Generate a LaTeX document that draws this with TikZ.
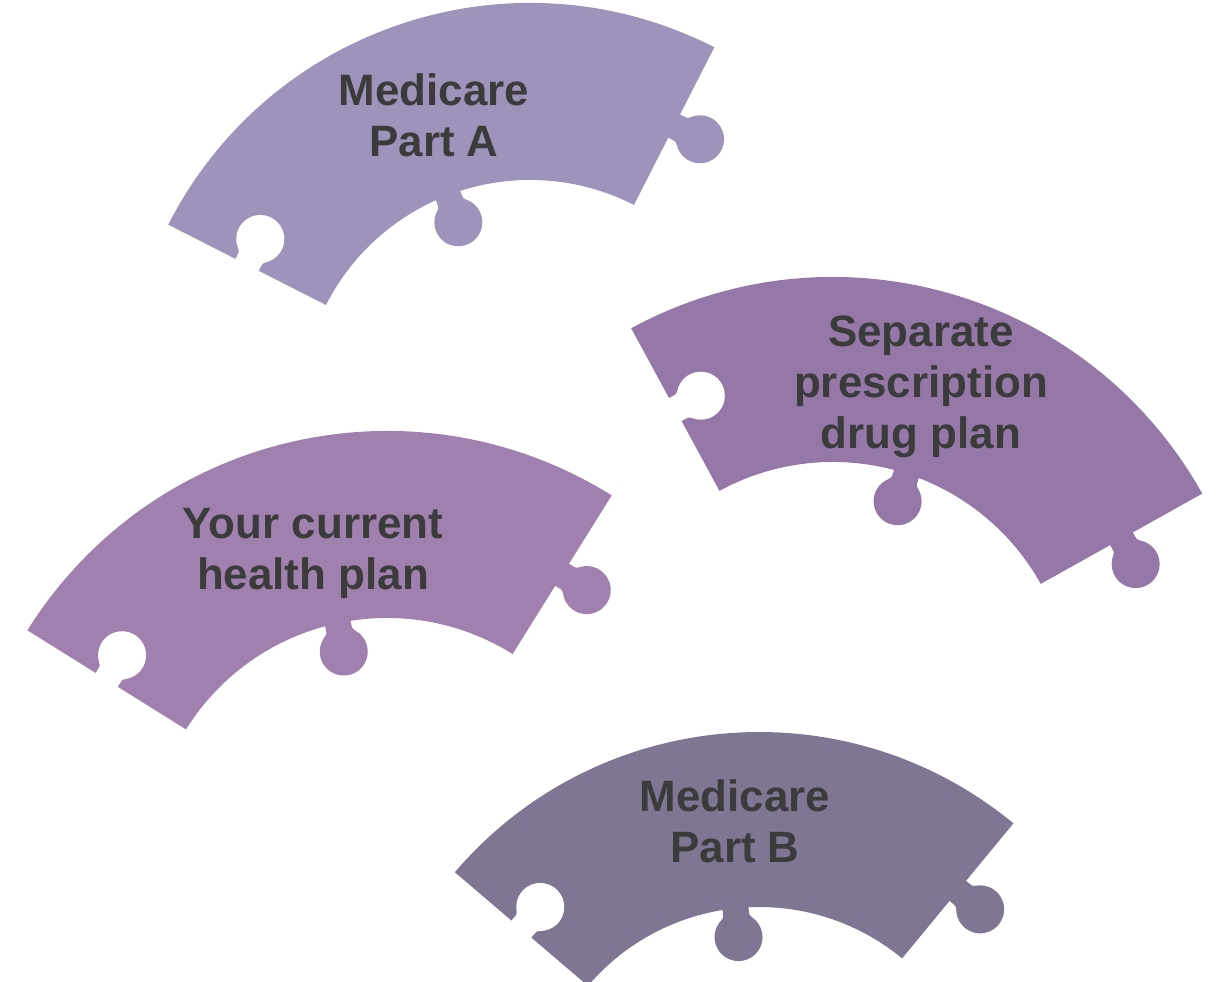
\documentclass[tikz,border=0pt]{standalone}
\usepackage{fontspec}
\setmainfont{Liberation Sans}
\usepackage{xcolor}
\usepackage{tikz}
\usetikzlibrary{positioning}

\definecolor{partAcol}{HTML}{9E93BB}
\definecolor{drugcol}{HTML}{9578A8}
\definecolor{healthcol}{HTML}{A080AF}
\definecolor{partBcol}{HTML}{7F7694}
\definecolor{labelgray}{HTML}{3B3B3B}

\begin{document}
\begin{tikzpicture}[x=0.02cm, y=0.02cm,
  every node/.style={font=\bfseries\fontsize{25}{29}\selectfont, text=labelgray, align=center},
  pics/knob/.style={code={
    \fill (-13,-6) -- (-13,3) .. controls (-13,6) and (-12.4,8.1) .. (-15.5,10.7)
      arc[start angle=229.8, end angle=-49.8, radius=24]
      .. controls (12.4,8.1) and (13,6) .. (13,3) -- (13,-6) -- cycle;
  }}]

\clip (0,0) rectangle (1220,982);
\useasboundingbox (0,0) rectangle (1220,982);

% Top piece: Medicare Part A
\begin{scope}[shift={(530,573)}]
    \fill[partAcol] (63:406) arc[start angle=63, end angle=153, radius=406]
        -- (153:229) arc[start angle=153, end angle=63, radius=229] -- cycle;
    \pic[rotate=201, fill=partAcol] at (111:229) {knob};
    \pic[rotate=-117, fill=partAcol] at (63:317.5) {knob};
    \pic[rotate=-27, fill=white] at (153:317.5) {knob};
\end{scope}

% Right piece: drug plan
\begin{scope}[shift={(833,282)}]
    \fill[drugcol] (29.2:423) arc[start angle=29.2, end angle=118.5, radius=423]
        -- (118.5:238) arc[start angle=118.5, end angle=29.2, radius=238] -- cycle;
    \pic[rotate=162, fill=drugcol] at (72:238) {knob};
    \pic[rotate=-150.8, fill=drugcol] at (29.2:330.5) {knob};
    \pic[rotate=-61.5, fill=white] at (118.5:330.5) {knob};
\end{scope}

% Left piece: current health plan
\begin{scope}[shift={(387,127)}]
    \fill[healthcol] (58:424) arc[start angle=58, end angle=148, radius=424]
        -- (148:237) arc[start angle=148, end angle=58, radius=237] -- cycle;
    \pic[rotate=192, fill=healthcol] at (102:237) {knob};
    \pic[rotate=-122, fill=healthcol] at (58:330.5) {knob};
    \pic[rotate=-32, fill=white] at (148:330.5) {knob};
\end{scope}

% Bottom piece: Medicare Part B
\begin{scope}[shift={(759,-150)}]
    \fill[partBcol] (50.5:400) arc[start angle=50.5, end angle=139.5, radius=400]
        -- (139.5:225) arc[start angle=139.5, end angle=50.5, radius=225] -- cycle;
    \pic[rotate=186, fill=partBcol] at (96:225) {knob};
    \pic[rotate=-129.5, fill=partBcol] at (50.5:312.5) {knob};
    \pic[rotate=-40.5, fill=white] at (139.5:312.5) {knob};
\end{scope}

% Labels
\node (partA) at (434,866.5) {Medicare\\Part A};
\node (drugplan) at (921,595.5) {Separate\\prescription\\drug plan};
\node (healthplan) at (313,429) {Your current\\health plan};
\node (partB) at (735,160.5) {Medicare\\Part B};

\end{tikzpicture}
\end{document}
